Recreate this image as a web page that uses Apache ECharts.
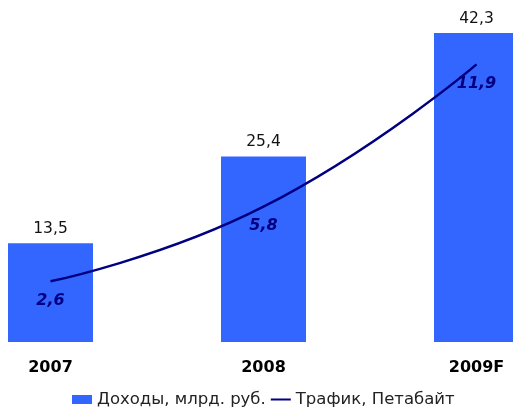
<!DOCTYPE html>
<html>
<head>
<meta charset="utf-8">
<script src="https://cdn.jsdelivr.net/npm/echarts@6/dist/echarts.min.js"></script>
<style>
html,body{margin:0;padding:0;background:#fff;}
#chart{width:513px;height:410px;}
</style>
</head>
<body>
<div id="chart"></div>
<script>
var years = ['2007', '2008', '2009F'];
var income = [13.5, 25.4, 42.3];   // Доходы, млрд. руб.
var traffic = [2.6, 5.8, 11.9];    // Трафик, Петабайт

function comma(p) {
	return String(p.value).replace('.', ',');
}

var chart = echarts.init(document.getElementById('chart'));
var option = {
	animation: false,
	textStyle: { fontFamily: 'DejaVu Sans' },
	grid: { left: 50.5, right: 36.5, top: 0, bottom: 68 },
	legend: {
		left: 67,
		top: 386,
		itemWidth: 20,
		itemHeight: 9,
		itemGap: 4,
		textStyle: { fontSize: 16.5, color: '#222', fontFamily: 'DejaVu Sans' },
		data: [
			{ name: 'Доходы, млрд. руб.', icon: 'rect' },
			{ name: 'Трафик, Петабайт', itemStyle: { opacity: 0 } }
		]
	},
	xAxis: {
		type: 'category',
		boundaryGap: false,
		data: years,
		axisLine: { show: false },
		axisTick: { show: false },
		axisLabel: {
			margin: 18,
			fontSize: 16,
			fontWeight: 'bold',
			color: '#000',
			fontFamily: 'DejaVu Sans'
		}
	},
	yAxis: [
		{ type: 'value', min: 0, max: 46.8, show: false, splitLine: { show: false } },
		{ type: 'value', min: 0, max: 14.66, show: false, splitLine: { show: false } }
	],
	series: [
		{
			name: 'Доходы, млрд. руб.',
			type: 'bar',
			barWidth: 85,
			clip: false,
			itemStyle: { color: '#3366ff' },
			label: {
				show: true,
				position: 'top',
				distance: 6,
				fontSize: 15.5,
				color: '#111',
				fontFamily: 'DejaVu Sans',
				formatter: comma
			},
			data: income
		},
		{
			name: 'Трафик, Петабайт',
			type: 'line',
			yAxisIndex: 1,
			smooth: true,
			symbol: 'circle',
			symbolSize: 0.1,
			lineStyle: { color: '#000080', width: 2.5 },
			itemStyle: { color: '#000080' },
			label: {
				show: true,
				position: 'bottom',
				distance: 11,
				fontSize: 16,
				fontWeight: 'bold',
				fontStyle: 'italic',
				color: '#000080',
				fontFamily: 'DejaVu Sans',
				formatter: comma
			},
			data: traffic
		}
	]
};
chart.setOption(option);
</script>
</body>
</html>
